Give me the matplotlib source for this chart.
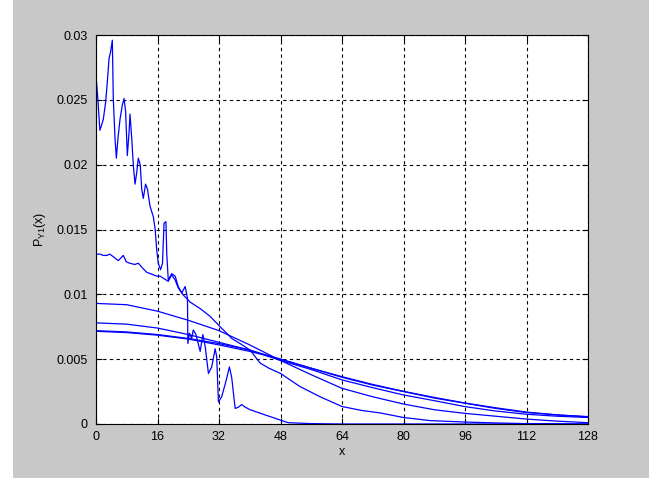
import matplotlib
matplotlib.use('Agg')
import matplotlib.pyplot as plt
from matplotlib.patches import Rectangle

plt.rcParams['font.family'] = ['Liberation Sans', 'DejaVu Sans']
plt.rcParams['mathtext.default'] = 'regular'

# jagged curve (largest peak)
x1 = [0, 0.5, 1.0, 1.4, 1.9, 2.5, 2.95, 3.4, 3.8, 4.25, 4.5, 4.95, 5.3, 5.7, 6.25,
      6.85, 7.3, 7.7, 8.15, 8.6, 8.85, 9.3, 9.7, 10.15, 10.6, 11.0, 11.5, 11.9, 12.3,
      12.9, 13.4, 14.05, 14.9, 15.4, 15.8, 16.2, 16.8, 17.3, 17.7, 18.2, 18.4, 18.8,
      19.7, 20.6, 21.4, 22.3, 23.2, 23.8, 23.9, 24.3, 24.9, 25.3, 26.0, 27.1, 27.8,
      28.4, 29.25, 30.1, 31.0, 31.4, 31.85, 32.7, 33.9, 34.7, 35.3, 36.2, 37.05, 37.9,
      38.8, 40.1, 44, 48, 50, 56, 64, 128]
y1 = [0.0269, 0.0250, 0.02265, 0.0230, 0.0235, 0.0248, 0.0264, 0.0282, 0.0287, 0.0296,
      0.0251, 0.0220, 0.0205, 0.0220, 0.0235, 0.0246, 0.0251, 0.0241, 0.0207, 0.0225,
      0.0239, 0.0220, 0.0200, 0.0185, 0.0194, 0.0205, 0.0200, 0.0181, 0.0174, 0.0185,
      0.0181, 0.0168, 0.0160, 0.0150, 0.0134, 0.0124, 0.0119, 0.0124, 0.0155, 0.0156,
      0.0132, 0.0111, 0.0116, 0.0114, 0.0106, 0.0101, 0.0106, 0.0097, 0.0062, 0.0070,
      0.0066, 0.00725, 0.0069, 0.0056, 0.0069, 0.0060, 0.0039, 0.0044, 0.0058, 0.0052,
      0.0017, 0.0021, 0.0034, 0.0044, 0.0036, 0.0012, 0.0013, 0.0015, 0.0013, 0.0011,
      0.0007, 0.0003, 0.0001, 0.00003, 0.0, 0.0]

# second curve, slightly noisy
x2 = [0, 1.1, 1.9, 2.8, 3.6, 4.5, 5.8, 7.1, 7.9, 8.8, 10.1, 11.0, 12.2, 13.2, 14.1,
      15.8, 16.7, 18.8, 19.7, 20.6, 21.4, 22.7, 24.5, 27.1, 29.7, 32.3, 34.0, 35.3,
      37.5, 40.1, 42.7, 45, 48, 53, 58.3, 64, 69, 74, 80, 87, 96, 104, 112, 128]
y2 = [0.0131, 0.0131, 0.0130, 0.0130, 0.0131, 0.0129, 0.0126, 0.0130, 0.0125, 0.0124,
      0.0123, 0.0124, 0.0120, 0.0117, 0.0116, 0.0114, 0.0114, 0.0110, 0.0115, 0.0111,
      0.0105, 0.00995, 0.0094, 0.0089, 0.0083, 0.0075, 0.0070, 0.0066, 0.0062, 0.0057,
      0.0047, 0.0043, 0.0039, 0.0029, 0.0021, 0.00135, 0.00105, 0.00085, 0.0005,
      0.00026, 0.00015, 0.00008, 0.00003, 0.0]

# smooth curves
xs = [0, 8, 16, 24, 32, 40, 48, 56, 64, 72, 80, 88, 96, 104, 112, 120, 128]
y3 = [0.0093, 0.0092, 0.0087, 0.0080, 0.0072, 0.0061, 0.0049, 0.0038, 0.00275, 0.0021,
      0.00154, 0.0011, 0.00082, 0.0006, 0.00038, 0.00022, 0.0001]
y4 = [0.0078, 0.0077, 0.0074, 0.0069, 0.0063, 0.0057, 0.0049, 0.0042, 0.0034, 0.0028,
      0.00224, 0.0018, 0.00134, 0.0010, 0.00075, 0.0006, 0.0005]
y5 = [0.0072, 0.0071, 0.0069, 0.0066, 0.0062, 0.0057, 0.0050, 0.0043, 0.0036, 0.0030,
      0.0025, 0.0020, 0.0016, 0.0012, 0.00088, 0.0007, 0.00057]
y6 = [0.00715, 0.00705, 0.00685, 0.00655, 0.0061, 0.0056, 0.0050, 0.0043, 0.00365,
      0.00305, 0.00252, 0.00205, 0.00162, 0.00125, 0.00092, 0.0007, 0.00055]

xticks = [0, 16, 32, 48, 64, 80, 96, 112, 128]
yticks = [0, 0.005, 0.01, 0.015, 0.02, 0.025, 0.03]
ytick_labels = ['0', '0.005', '0.01', '0.015', '0.02', '0.025', '0.03']

fig = plt.figure(figsize=(6.67, 4.78), dpi=100)
fig.patch.set_facecolor('white')
# grey window area (white strips left and right)
fig.patches.append(Rectangle((13 / 667, 0), (649 - 13) / 667, 1, transform=fig.transFigure,
                             facecolor='#c8c8c8', edgecolor='none', zorder=-10))

ax = fig.add_axes([96 / 667, 1 - 424 / 478, (588 - 96) / 667, (424 - 35) / 478])
ax.set_facecolor('white')
ax.set_zorder(1)

for xv, yv in [(x1, y1), (x2, y2), (xs, y3), (xs, y4), (xs, y5), (xs, y6)]:
    ax.plot(xv, yv, color='#0000ff', linewidth=0.9)

ax.set_xlim(0, 128)
ax.set_ylim(0, 0.03)
ax.set_xticks(xticks)
ax.set_xticklabels([str(t) for t in xticks])
ax.set_yticks(yticks)
ax.set_yticklabels(ytick_labels)

ax.grid(True, color='black', linestyle=(0, (3, 3)), linewidth=0.8)
ax.tick_params(direction='in', length=4, width=0.8, top=True, right=True,
               labelsize=9, colors='black')
ax.tick_params(axis='y', pad=6)
ax.tick_params(axis='x', pad=5)
for s in ax.spines.values():
    s.set_linewidth(0.8)

ax.set_xlabel('x', fontsize=9, labelpad=2)
ax.set_ylabel('P$_{Y1}$(x)', fontsize=9, labelpad=6)

fig.savefig('out.png', dpi=100, facecolor=fig.get_facecolor())
